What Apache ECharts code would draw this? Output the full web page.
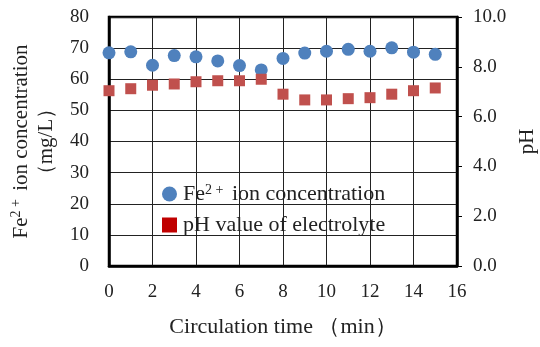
<!DOCTYPE html>
<html><head><meta charset="utf-8">
<script src="https://cdn.jsdelivr.net/npm/echarts@6/dist/echarts.min.js"></script>
<style>html,body{margin:0;padding:0;background:#fff}#c{width:540px;height:347px}</style>
</head><body><div id="c"></div>
<script>
var times = [0,1,2,3,4,5,6,7,8,9,10,11,12,13,14,15];
var fe = [68.5,68.8,64.5,67.6,67.2,65.9,64.4,63.0,66.7,68.4,69.0,69.6,69.0,70.1,68.7,68.0];
var ph = [7.04,7.12,7.26,7.31,7.40,7.44,7.44,7.50,6.90,6.67,6.67,6.72,6.76,6.90,7.04,7.15];
var feName = 'Fe2+ ion concentration';
var phName = 'pH value of electrolyte';
var FONT = 'Liberation Serif';
var TICK = 19, NAME = 22;
var chart = echarts.init(document.getElementById('c'));
chart.setOption({
  backgroundColor:'#fff',
  animation:false,
  textStyle:{fontFamily:FONT,color:'#222'},
  grid:{left:109,right:83,top:17,bottom:81,show:true,borderColor:'#000',borderWidth:2.5,containLabel:false,outerBoundsMode:'none'},
  legend:{
    orient:'vertical', left:157, top:178, itemGap:9, itemWidth:15, itemHeight:15,
    textStyle:{fontFamily:FONT,fontSize:NAME,color:'#222',padding:[0,0,0,1],
      rich:{b:{fontFamily:FONT,fontSize:NAME,color:'#222'},s:{fontFamily:FONT,fontSize:14,color:'#222',verticalAlign:'top',padding:[0,3,8,0]}}},
    formatter:function(n){ if(n===feName) return '{b|Fe}{s|2 +}{b| ion concentration}'; return '{b|'+n+'}'; },
    data:[{name:feName,icon:'circle',itemStyle:{color:'#4F81BD'}},{name:phName,icon:'rect',itemStyle:{color:'#C00000'}}]
  },
  xAxis:{type:'value',min:0,max:16,interval:2,
    name:'Circulation time （min）',nameLocation:'middle',nameGap:50,
    nameTextStyle:{fontFamily:FONT,fontSize:NAME,color:'#222'},
    axisLine:{show:true,lineStyle:{color:'#000',width:2.5}},axisTick:{show:false},
    axisLabel:{fontFamily:FONT,fontSize:TICK,color:'#222',margin:17},
    splitLine:{show:true,lineStyle:{color:'#222',width:1}}},
  yAxis:[{type:'value',min:0,max:80,interval:10,position:'left',
    name:'{b|Fe}{s|2 +}{b| ion concentration}\n{b|（mg/L）}',nameLocation:'middle',nameGap:48,nameRotate:90,
    nameTextStyle:{fontFamily:FONT,fontSize:21,color:'#222',lineHeight:25,align:'center',
      rich:{b:{fontFamily:FONT,fontSize:21,color:'#222',lineHeight:25},s:{fontFamily:FONT,fontSize:14,color:'#222',verticalAlign:'top',padding:[0,3,10,0]}}},
    axisLine:{show:true,lineStyle:{color:'#000',width:2.5}},axisTick:{show:false},
    axisLabel:{fontFamily:FONT,fontSize:TICK,color:'#222',margin:20},
    splitLine:{show:true,lineStyle:{color:'#222',width:1}}},
   {type:'value',min:0,max:10,interval:2,position:'right',
    name:'pH',nameLocation:'middle',nameGap:52,nameRotate:90,
    nameTextStyle:{fontFamily:FONT,fontSize:21,color:'#222'},
    axisLine:{show:true,lineStyle:{color:'#000',width:2.5}},axisTick:{show:true,inside:false,length:5,lineStyle:{color:'#000',width:1}},
    axisLabel:{fontFamily:FONT,fontSize:TICK,color:'#222',margin:16,formatter:function(v){return v.toFixed(1);}},
    splitLine:{show:false}}],
  series:[
    {name:feName,type:'scatter',yAxisIndex:0,symbol:'circle',symbolSize:13,
      itemStyle:{color:'#4F81BD',opacity:1},data:times.map(function(t,i){return [t,fe[i]];})},
    {name:phName,type:'scatter',yAxisIndex:1,symbol:'rect',symbolSize:11,
      itemStyle:{color:'#C0504D',opacity:1},data:times.map(function(t,i){return [t,ph[i]];})}
  ]
});
</script></body></html>
